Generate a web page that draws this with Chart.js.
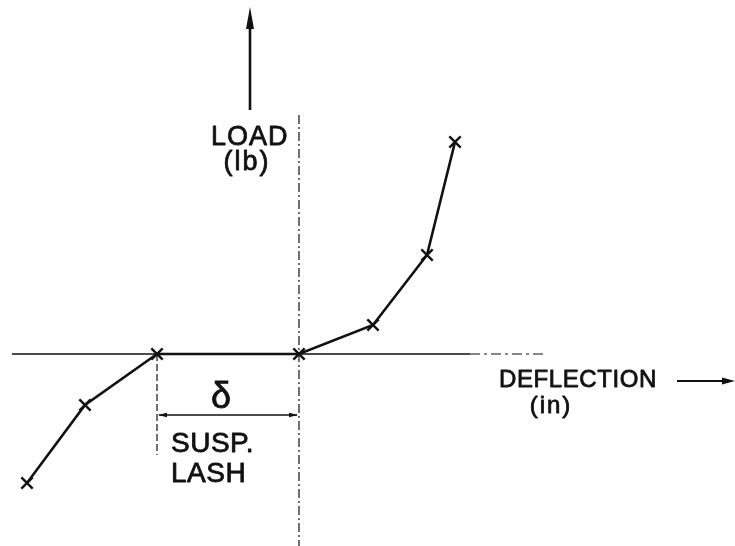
<!DOCTYPE html>
<html>
<head>
<meta charset="utf-8">
<script src="https://cdn.jsdelivr.net/npm/chart.js@4/dist/chart.umd.min.js"></script>
<style>
  html, body { margin: 0; padding: 0; background: #fff; }
  canvas { display: block; }
</style>
</head>
<body>
<canvas id="c" width="735" height="546"></canvas>
<script>
// Load-deflection test points (deflection in in, load in lb)
const deflection = [-2.72, -2.14, -1.42, 0.00, 0.74, 1.28, 1.56];
const load       = [-129,  -51,   0,    0,    29,   99,   212];

// Axis titles and dimension labels
const yTitle = ['LOAD', '(lb)'];
const xTitle = ['DEFLECTION', '(in)'];
const lashSymbol = 'δ';
const lashLabel = ['SUSP.', 'LASH'];

const INK = '#111';
const FONT = "'Liberation Sans', Arial, sans-serif";

function arrowHead(ctx, x, y, dx, dy, len, half) {
  const nx = -dy, ny = dx;
  ctx.beginPath();
  ctx.moveTo(x, y);
  ctx.lineTo(x - dx * len + nx * half, y - dy * len + ny * half);
  ctx.lineTo(x - dx * len - nx * half, y - dy * len - ny * half);
  ctx.closePath();
  ctx.fill();
}

// Lettering drawn filled plus a thin outline for a heavier pen stroke
function letter(ctx, text, x, y) {
  ctx.fillText(text, x, y);
  ctx.strokeText(text, x, y);
}

// Draws the axes, the lash dimension and the labels behind the curve
const sketchAxes = {
  id: 'sketchAxes',
  beforeDatasetsDraw(chart) {
    const ctx = chart.ctx;
    const xs = chart.scales.x, ys = chart.scales.y;
    const x0 = xs.getPixelForValue(0);
    const y0 = ys.getPixelForValue(0);
    const lashStart = xs.getPixelForValue(deflection[2]);
    const lashEnd = xs.getPixelForValue(deflection[3]);
    ctx.save();
    ctx.strokeStyle = INK;
    ctx.fillStyle = INK;
    ctx.lineCap = 'butt';

    // horizontal zero-load line
    ctx.lineWidth = 1.6;
    ctx.beginPath();
    ctx.moveTo(12, y0);
    ctx.lineTo(470, y0);
    ctx.stroke();
    ctx.lineWidth = 1.2;
    ctx.setLineDash([10, 4, 3, 4]);
    ctx.beginPath();
    ctx.moveTo(470, y0);
    ctx.lineTo(543, y0);
    ctx.stroke();

    // vertical zero-deflection centre line
    ctx.lineWidth = 1.2;
    ctx.setLineDash([9, 3, 2, 3]);
    ctx.beginPath();
    ctx.moveTo(x0, 115);
    ctx.lineTo(x0, 546);
    ctx.stroke();

    // extension line at the start of the lash
    ctx.setLineDash([7, 3]);
    ctx.beginPath();
    ctx.moveTo(lashStart, y0);
    ctx.lineTo(lashStart, 455);
    ctx.stroke();
    ctx.setLineDash([]);

    // dimension line with arrowheads
    ctx.lineWidth = 1.3;
    ctx.beginPath();
    ctx.moveTo(lashStart + 2, 415);
    ctx.lineTo(lashEnd - 2, 415);
    ctx.stroke();
    arrowHead(ctx, lashStart + 1, 415, -1, 0, 9, 2.2);
    arrowHead(ctx, lashEnd - 1, 415, 1, 0, 9, 2.2);

    // load direction arrow
    ctx.lineWidth = 2.6;
    ctx.beginPath();
    ctx.moveTo(250, 110);
    ctx.lineTo(250, 22);
    ctx.stroke();
    arrowHead(ctx, 250, 7, 0, -1, 22, 4);

    // deflection direction arrow
    ctx.lineWidth = 2.2;
    ctx.beginPath();
    ctx.moveTo(677, 381);
    ctx.lineTo(724, 381);
    ctx.stroke();
    arrowHead(ctx, 735, 381, 1, 0, 13, 3.5);

    // labels
    ctx.lineWidth = 0.8;
    ctx.lineJoin = 'round';
    ctx.textBaseline = 'alphabetic';
    ctx.font = '27px ' + FONT;
    ctx.textAlign = 'left';
    ctx.letterSpacing = '1px';
    letter(ctx, yTitle[0], 211, 145);
    ctx.textAlign = 'center';
    ctx.letterSpacing = '2px';
    letter(ctx, yTitle[1], 247, 170);

    ctx.font = '24px ' + FONT;
    ctx.textAlign = 'left';
    ctx.letterSpacing = '0.6px';
    letter(ctx, xTitle[0], 499, 387);
    ctx.textAlign = 'center';
    ctx.letterSpacing = '2px';
    letter(ctx, xTitle[1], 551, 413);

    ctx.letterSpacing = '0px';
    ctx.font = '36px ' + FONT;
    letter(ctx, lashSymbol, 221, 408);

    ctx.font = '28px ' + FONT;
    ctx.textAlign = 'left';
    ctx.letterSpacing = '0.5px';
    letter(ctx, lashLabel[0], 171, 452);
    letter(ctx, lashLabel[1], 171, 482);
    ctx.restore();
  }
};

new Chart(document.getElementById('c'), {
  type: 'scatter',
  data: {
    datasets: [{
      data: deflection.map((d, i) => ({ x: d, y: load[i] })),
      showLine: true,
      tension: 0,
      borderColor: INK,
      borderWidth: 2.6,
      pointStyle: 'crossRot',
      pointRadius: 8,
      pointBorderWidth: 2.4,
      pointBorderColor: INK,
      pointBackgroundColor: INK
    }]
  },
  options: {
    responsive: false,
    animation: false,
    events: [],
    layout: { padding: 0, autoPadding: false },
    plugins: { legend: { display: false }, tooltip: { enabled: false } },
    scales: {
      x: { type: 'linear', min: -2.99, max: 4.36, display: false },
      y: { type: 'linear', min: -192, max: 354, display: false }
    }
  },
  plugins: [sketchAxes]
});
</script>
</body>
</html>
